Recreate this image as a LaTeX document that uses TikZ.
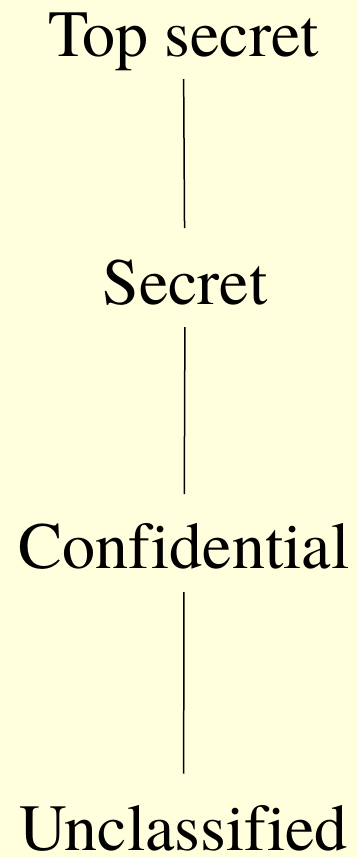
\documentclass[tikz,border=0pt]{standalone}
\usepackage{fontspec}
\newfontfamily\tnr[Ligatures=NoCommon]{texgyretermes-regular.otf}
\definecolor{bg}{HTML}{FFFFDD}
\begin{document}
\begin{tikzpicture}[x=1pt,y=-1pt,
  level/.style={anchor=base,inner sep=0pt,font=\tnr\fontsize{66}{72}\selectfont},
  link/.style={line width=1.5pt,shorten <=23pt,shorten >=76pt}]
\fill[bg] (0,0) rectangle (358,857);
\useasboundingbox (0,0) rectangle (358,857);
\node[level] (ts) at (183.5,56) {Top secret};
\node[level] (s) at (185,304) {Secret};
\node[level] (c) at (184,568) {Confidential};
\node[level] (u) at (183.5,850.5) {Unclassified};
\draw[link] (ts.base) -- (s.base);
\draw[link,shorten >=74pt] (s.base) -- (c.base);
\draw[link,shorten <=24pt,shorten >=77pt] (c.base) -- (u.base);
\end{tikzpicture}
\end{document}
